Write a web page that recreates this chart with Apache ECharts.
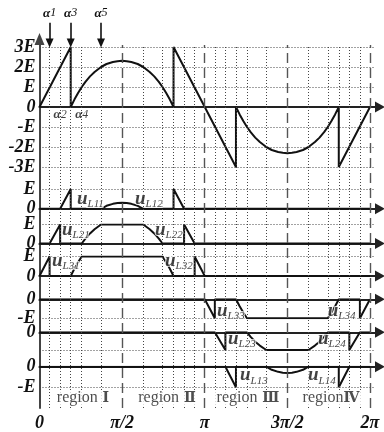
<!DOCTYPE html>
<html>
<head>
<meta charset="utf-8">
<script src="https://cdn.jsdelivr.net/npm/echarts/dist/echarts.min.js"></script>
<style>
html, body { margin: 0; padding: 0; background: #fff; }
#chart { width: 384px; height: 432px; }
</style>
</head>
<body>
<div id="chart"></div>
<script>
// ---------- data (angles in degrees, voltages in units of E) ----------
const xTickLabels = ['0', 'π/2', 'π', '3π/2', '2π'];
const mainTickLabels = ['-3E', '-2E', '-E', '0', 'E', '2E', '3E']; // values -3 .. 3
const posTickLabels = ['0', 'E'];
const negTickLabels = ['-E', '0'];

const alphaDeg = [11, 22.5, 34, 46, 67];
const alphaNames = ['α1', 'α2', 'α3', 'α4', 'α5'];

// switching instants (dotted) and quarter-period marks (dashed)
const switchDeg = [11, 22.5, 34, 46, 67, 113, 134, 146, 157.5, 169,
                   191, 202.5, 214, 226, 247, 293, 314, 326, 337.5, 349];
const quarterDeg = [90, 180, 270, 360];

// total output voltage
const mainWave = [
  [0, 0], [34, 3], [34, 0], [38, 0.37], [42, 0.7], [46, 1], [50, 1.26], [55, 1.53],
  [60, 1.75], [67, 2], [73, 2.15], [80, 2.25], [85, 2.29], [90, 2.31], [95, 2.29],
  [100, 2.25], [107, 2.15], [113, 2], [120, 1.75], [125, 1.53], [130, 1.26], [134, 1],
  [138, 0.7], [142, 0.37], [146, 0], [146, 3], [180, 0],
  [214, -3], [214, 0], [218, -0.37], [222, -0.7], [226, -1], [230, -1.26], [235, -1.53],
  [240, -1.75], [247, -2], [253, -2.15], [260, -2.25], [265, -2.29], [270, -2.31], [275, -2.29],
  [280, -2.25], [287, -2.15], [293, -2], [300, -1.75], [305, -1.53], [310, -1.26], [314, -1],
  [318, -0.7], [322, -0.37], [326, 0], [326, -3], [360, 0]
];

// module voltages, positive half
const uL1Pos = [
  [0, 0], [22.5, 0], [34, 1], [34, 0], [67, 0], [73, 0.15], [80, 0.25], [85, 0.29], [90, 0.31],
  [95, 0.29], [100, 0.25], [107, 0.15], [113, 0], [146, 0], [146, 1], [157.5, 0], [360, 0]
];
const uL2Pos = [
  [0, 0], [11, 0], [22.5, 1], [22.5, 0], [46, 0], [50, 0.26], [55, 0.53], [60, 0.75], [67, 1],
  [113, 1], [120, 0.75], [125, 0.53], [130, 0.26], [134, 0], [157.5, 0], [157.5, 1], [169, 0], [360, 0]
];
const uL3Pos = [
  [0, 0], [11, 1], [11, 0], [34, 0], [38, 0.37], [42, 0.7], [46, 1], [134, 1], [138, 0.7],
  [142, 0.37], [146, 0], [169, 0], [169, 1], [180, 0], [360, 0]
];
// module voltages, negative half
const uL3Neg = [
  [0, 0], [180, 0], [191, -1], [191, 0], [214, 0], [218, -0.37], [222, -0.7], [226, -1],
  [314, -1], [318, -0.7], [322, -0.37], [326, 0], [349, 0], [349, -1], [360, 0]
];
const uL2Neg = [
  [0, 0], [191, 0], [202.5, -1], [202.5, 0], [226, 0], [230, -0.26], [235, -0.53], [240, -0.75],
  [247, -1], [293, -1], [300, -0.75], [305, -0.53], [310, -0.26], [314, 0], [337.5, 0],
  [337.5, -1], [349, 0], [360, 0]
];
const uL1Neg = [
  [0, 0], [202.5, 0], [214, -1], [214, 0], [247, 0], [253, -0.15], [260, -0.25], [265, -0.29],
  [270, -0.31], [275, -0.29], [280, -0.25], [287, -0.15], [293, 0], [326, 0], [326, -1],
  [337.5, 0], [360, 0]
];

const waveLabelNames = [['L11', 'L12'], ['L21', 'L22'], ['L31', 'L32'],
                        ['L33', 'L34'], ['L23', 'L24'], ['L13', 'L14']];
const regionNames = ['region Ⅰ', 'region Ⅱ', 'region Ⅲ', 'regionⅣ'];

// ---------- layout ----------
const LEFT = 39.5, WIDTH = 335.5, X_MAX = 365.45;
const panelLayout = [
  { top: 47,    height: 120,  min: -3, max: 3 },
  { top: 189,   height: 19.8, min: 0,  max: 1 },
  { top: 224.5, height: 19,   min: 0,  max: 1 },
  { top: 256.5, height: 19.5, min: 0,  max: 1 },
  { top: 299.3, height: 19,   min: -1, max: 0 },
  { top: 332.3, height: 17.7, min: -1, max: 0 },
  { top: 366.7, height: 20.6, min: -1, max: 0 }
];
const panelData = [mainWave, uL1Pos, uL2Pos, uL3Pos, uL3Neg, uL2Neg, uL1Neg];
const panelTicks = [mainTickLabels, posTickLabels, posTickLabels, posTickLabels,
                    negTickLabels, negTickLabels, negTickLabels];
// label anchors [deg, value] for the module-voltage names in panels 1..6
const waveLabelPos = [
  [[40.8, 0.5], [104, 0.5]],
  [[24.5, 0.72], [125.8, 0.72]],
  [[13.6, 0.78], [136.7, 0.78]],
  [[193.3, -0.6], [314, -0.6]],
  [[205.3, -0.38], [303.4, -0.38]],
  [[218.4, -0.43], [292.5, -0.43]]
];
const regionPos = [47.4, 138.9, 227.1, 317.5];

const SERIF = 'Liberation Serif';
const INK = '#111';
const dotted = { type: [1, 2], color: '#444', width: 1 };
const dashed = { type: [10, 5], color: '#555', width: 1.4 };
const axisStyle = { color: '#222', width: 2.2 };
const tickFont = { fontFamily: SERIF, fontStyle: 'italic', fontWeight: 'bold', fontSize: 18, color: INK };

function gridAt(top, height) {
  return { left: LEFT, width: WIDTH, top: top, height: height, containLabel: false, outerBoundsMode: 'none' };
}

const grid = [gridAt(45, 363), gridAt(8, 39)];
panelLayout.forEach(p => grid.push(gridAt(p.top, p.height)));
grid.push(gridAt(388, 20));

const xAxis = [], yAxis = [], series = [];
const hiddenAxisParts = { axisTick: { show: false }, splitLine: { show: false } };

// background frame: left axis, vertical guides, angle labels
xAxis.push(Object.assign({
  gridIndex: 0, type: 'value', min: 0, max: X_MAX, interval: 90,
  axisLine: { show: false },
  axisLabel: Object.assign({ show: true, margin: 6,
    formatter: v => (v % 90 === 0 && xTickLabels[v / 90] !== undefined) ? xTickLabels[v / 90] : '' }, tickFont)
}, hiddenAxisParts));
yAxis.push(Object.assign({
  gridIndex: 0, type: 'value', min: 0, max: 1,
  axisLabel: { show: false },
  axisLine: { show: true, symbol: ['none', 'triangle'], symbolSize: [10, 12], symbolOffset: [0, 6],
              lineStyle: { color: '#444', width: 2 } }
}, hiddenAxisParts));
series.push({
  type: 'line', xAxisIndex: 0, yAxisIndex: 0, data: [], silent: true,
  markLine: {
    silent: true, symbol: 'none', animation: false, label: { show: false },
    data: switchDeg.map(d => ({ xAxis: d, lineStyle: dotted }))
      .concat(quarterDeg.map(d => ({ xAxis: d, lineStyle: dashed })))
  }
});

// switching-angle pointers above the main panel
xAxis.push(Object.assign({ gridIndex: 1, type: 'value', min: 0, max: X_MAX, show: false }, hiddenAxisParts));
yAxis.push(Object.assign({ gridIndex: 1, type: 'value', min: 0, max: 1, show: false }, hiddenAxisParts));
const alphaRich = {
  a: { fontFamily: SERIF, fontStyle: 'italic', fontWeight: 'bold', fontSize: 13, color: INK },
  n: { fontFamily: SERIF, fontStyle: 'italic', fontSize: 12, color: INK }
};
const alphaText = name => '{a|' + name.charAt(0) + '}{n|' + name.slice(1) + '}';
series.push({
  type: 'line', xAxisIndex: 1, yAxisIndex: 1, data: [], silent: true,
  markLine: {
    silent: true, animation: false, symbol: ['none', 'triangle'], symbolSize: [8, 9],
    lineStyle: { color: INK, width: 1.6, type: 'solid' },
    label: { show: true, position: 'start', distance: 3, formatter: p => alphaText(p.name), rich: alphaRich },
    data: [0, 2, 4].map(i => [
      { coord: [alphaDeg[i], 0.62], name: alphaNames[i] },
      { coord: [alphaDeg[i], 0.1] }
    ])
  }
});

// waveform panels
const halo = { textBorderColor: '#fff', textBorderWidth: 2 };
const waveRich = {
  u: Object.assign({ fontFamily: SERIF, fontStyle: 'italic', fontWeight: 'bold', fontSize: 19, color: INK, lineHeight: 22 }, halo),
  s: Object.assign({ fontFamily: SERIF, fontStyle: 'italic', fontSize: 11, color: INK, lineHeight: 11, verticalAlign: 'bottom' }, halo)
};
panelLayout.forEach((p, k) => {
  const gi = k + 2;
  const ticks = panelTicks[k];
  xAxis.push(Object.assign({
    gridIndex: gi, type: 'value', min: 0, max: X_MAX,
    axisLabel: { show: false },
    axisLine: { show: true, onZero: true, symbol: ['none', 'triangle'], symbolSize: [11, 10],
                symbolOffset: [0, 5], lineStyle: axisStyle }
  }, hiddenAxisParts));
  yAxis.push({
    gridIndex: gi, type: 'value', min: p.min, max: p.max, interval: 1,
    axisLine: { show: false }, axisTick: { show: false },
    axisLabel: Object.assign({ margin: 4, formatter: v => ticks[v - p.min] }, tickFont),
    splitLine: { show: true, lineStyle: dotted }
  });
  series.push({
    type: 'line', xAxisIndex: gi, yAxisIndex: gi, data: panelData[k], z: 3,
    symbol: 'none', smooth: false, lineStyle: { color: INK, width: 2 }
  });
  if (k > 0) {
    series.push({
      type: 'scatter', xAxisIndex: gi, yAxisIndex: gi, symbolSize: 0, z: 5, silent: true,
      data: waveLabelNames[k - 1].map((n, j) => ({ value: waveLabelPos[k - 1][j], name: n })),
      label: {
        show: true, position: 'right', distance: 0,
        formatter: p => '{u|u}{s|' + p.name + '}', rich: waveRich
      }
    });
  }
});

// α2 / α4 marks under the main axis
series.push({
  type: 'scatter', xAxisIndex: 2, yAxisIndex: 2, symbolSize: 0, z: 5, silent: true,
  data: [1, 3].map(i => ({ value: [alphaDeg[i], -0.37], name: alphaNames[i] })),
  label: { show: true, position: 'inside', formatter: p => alphaText(p.name), rich: alphaRich }
});

// region captions
xAxis.push(Object.assign({ gridIndex: 9, type: 'value', min: 0, max: X_MAX, show: false }, hiddenAxisParts));
yAxis.push(Object.assign({ gridIndex: 9, type: 'value', min: 0, max: 1, show: false }, hiddenAxisParts));
series.push({
  type: 'scatter', xAxisIndex: 9, yAxisIndex: 9, symbolSize: 0, z: 5, silent: true,
  data: regionNames.map((n, i) => ({ value: [regionPos[i], 0.5], name: n })),
  label: {
    show: true, position: 'inside', backgroundColor: '#fff', padding: [0, 2],
    formatter: p => {
      const cut = p.name.indexOf('region') + 6;
      return '{r|' + p.name.slice(0, cut) + '}{n|' + p.name.slice(cut) + '}';
    },
    rich: {
      r: { fontFamily: SERIF, fontSize: 16, color: '#222' },
      n: { fontFamily: 'DejaVu Serif', fontWeight: 'bold', fontSize: 14, color: '#222' }
    }
  }
});

const chart = echarts.init(document.getElementById('chart'), null, { renderer: 'canvas' });
chart.setOption({
  animation: false,
  backgroundColor: '#fff',
  grid: grid,
  xAxis: xAxis,
  yAxis: yAxis,
  series: series
});
</script>
</body>
</html>
